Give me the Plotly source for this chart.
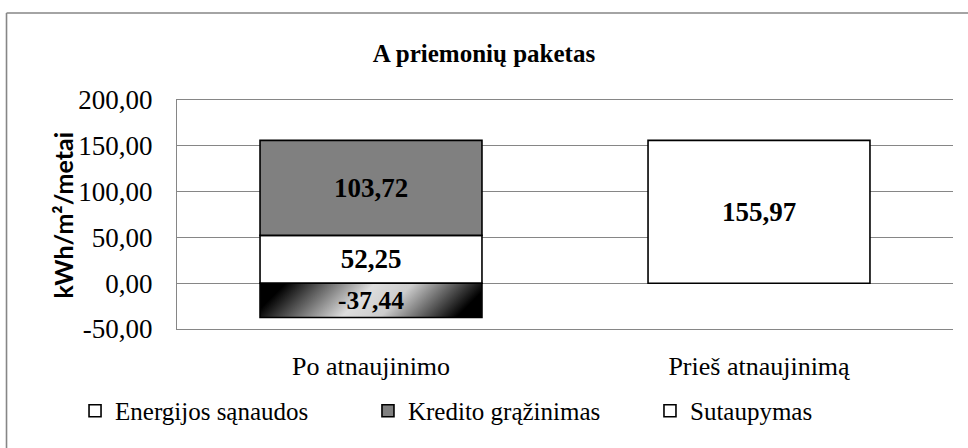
import base64
import plotly.graph_objects as go

# ---- data ----
categories = ["Po atnaujinimo", "Prieš atnaujinimą"]
series_names = ["Energijos sąnaudos", "Kredito grąžinimas", "Sutaupymas"]
energijos = [52.25, 155.97]
kredito = [103.72, None]
sutaupymas = [-37.44, None]
y_tickvals = [-50, 0, 50, 100, 150, 200]
y_ticktext = ["-50,00", "0,00", "50,00", "100,00", "150,00", "200,00"]
title_text = "A priemonių paketas"
y_title = "kWh/m²/metai"


def fmt(v):
    return "" if v is None else f"{v:.2f}".replace(".", ",")


SERIF = "Liberation Serif, Times New Roman, serif"
BAR_W = 0.572
GRID = "#868686"
LABEL_FONT = dict(family=SERIF, size=27, color="black", weight="bold")

fig = go.Figure()

fig.add_trace(go.Bar(
    x=categories, y=energijos, name=series_names[0],
    marker=dict(color="white", line=dict(color="black", width=1.6)),
    text=[fmt(v) for v in energijos], textposition="inside",
    insidetextanchor="middle", textangle=0, textfont=LABEL_FONT,
    legend="legend", width=BAR_W,
))
fig.add_trace(go.Bar(
    x=categories, y=kredito, name=series_names[1],
    marker=dict(color="#808080", line=dict(color="black", width=1.6)),
    text=[fmt(v) for v in kredito], textposition="inside",
    insidetextanchor="middle", textangle=0, textfont=LABEL_FONT,
    legend="legend2", width=BAR_W,
))
fig.add_trace(go.Bar(
    x=categories, y=sutaupymas, name=series_names[2],
    marker=dict(color="rgba(0,0,0,0)", line=dict(color="black", width=1.6)),
    text=[fmt(v) for v in sutaupymas], textposition="inside",
    insidetextanchor="middle", textangle=0, textfont=LABEL_FONT,
    legend="legend3", width=BAR_W,
))

# diagonal gradient fill behind the (transparent) savings bar
svg = ('<svg xmlns="http://www.w3.org/2000/svg" width="222" height="34" viewBox="0 0 222 34" '
       'preserveAspectRatio="none"><defs><linearGradient id="g" gradientUnits="userSpaceOnUse" '
       'x1="0" y1="0" x2="128" y2="128">'
       '<stop offset="0" stop-color="#000"/><stop offset="0.1" stop-color="#000"/>'
       '<stop offset="0.45" stop-color="#dddddd"/><stop offset="0.6" stop-color="#cccccc"/>'
       '<stop offset="0.9" stop-color="#000"/><stop offset="1" stop-color="#000"/>'
       '</linearGradient></defs><rect width="222" height="34" fill="url(#g)"/></svg>')
src = "data:image/svg+xml;base64," + base64.b64encode(svg.encode()).decode()
for i, v in enumerate(sutaupymas):
    if v is not None:
        fig.add_layout_image(dict(
            source=src, xref="x", yref="y", x=i, y=0, sizex=BAR_W, sizey=abs(v),
            xanchor="center", yanchor="top", sizing="stretch", layer="below",
        ))

legend_common = dict(orientation="h", xref="paper", yref="paper",
                     y=-0.358, yanchor="middle", bgcolor="rgba(0,0,0,0)",
                     font=dict(family=SERIF, size=25, color="black"),
                     itemwidth=30, traceorder="normal")

fig.update_layout(
    width=968, height=448,
    paper_bgcolor="white", plot_bgcolor="white",
    margin=dict(l=177, r=15, t=100, b=119, autoexpand=False),
    barmode="relative",
    separators=",.",
    showlegend=True,
    title=dict(text="<b>" + title_text + "</b>", xref="container", yref="container",
               x=0.5, xanchor="center", y=0.882, yanchor="middle",
               font=dict(family=SERIF, size=25, color="black")),
    legend=dict(x=-0.1314, xanchor="left", **legend_common),
    legend2=dict(x=0.2461, xanchor="left", **legend_common),
    legend3=dict(x=0.6095, xanchor="left", **legend_common),
    xaxis=dict(type="category", showgrid=False, showline=True, mirror=True,
               linecolor=GRID, linewidth=1.3, ticks="",
               tickfont=dict(family=SERIF, size=26, color="black"),
               ticklabelstandoff=14, automargin=False),
    yaxis=dict(range=[-50, 200], tickvals=y_tickvals, ticktext=y_ticktext,
               showgrid=True, gridcolor=GRID, gridwidth=1.3,
               showline=True, linecolor=GRID, linewidth=1.3,
               zeroline=False, ticks="",
               tickfont=dict(family=SERIF, size=27, color="black"),
               ticklabelstandoff=18, automargin=False),
    annotations=[dict(text="<b>" + y_title + "</b>", textangle=-90,
                      xref="paper", yref="paper", x=-0.147, y=0.5,
                      xanchor="center", yanchor="middle", showarrow=False,
                      font=dict(family="Lato, Carlito, sans-serif", size=25, color="black"))],
    shapes=[
        dict(type="line", xref="paper", yref="paper", x0=-0.2197, x1=-0.2197, y0=-0.53, y1=1.38,
             line=dict(color=GRID, width=1.6), layer="below"),
        dict(type="line", xref="paper", yref="paper", x0=-0.2197, x1=1.021, y0=1.38, y1=1.38,
             line=dict(color=GRID, width=1.6), layer="below"),
    ],
)

fig.write_html("out.html", config={"displayModeBar": False},
               post_script=("document.documentElement.style.overflow='hidden';"
                            "document.body.style.margin='0';document.body.style.overflow='hidden';"))
